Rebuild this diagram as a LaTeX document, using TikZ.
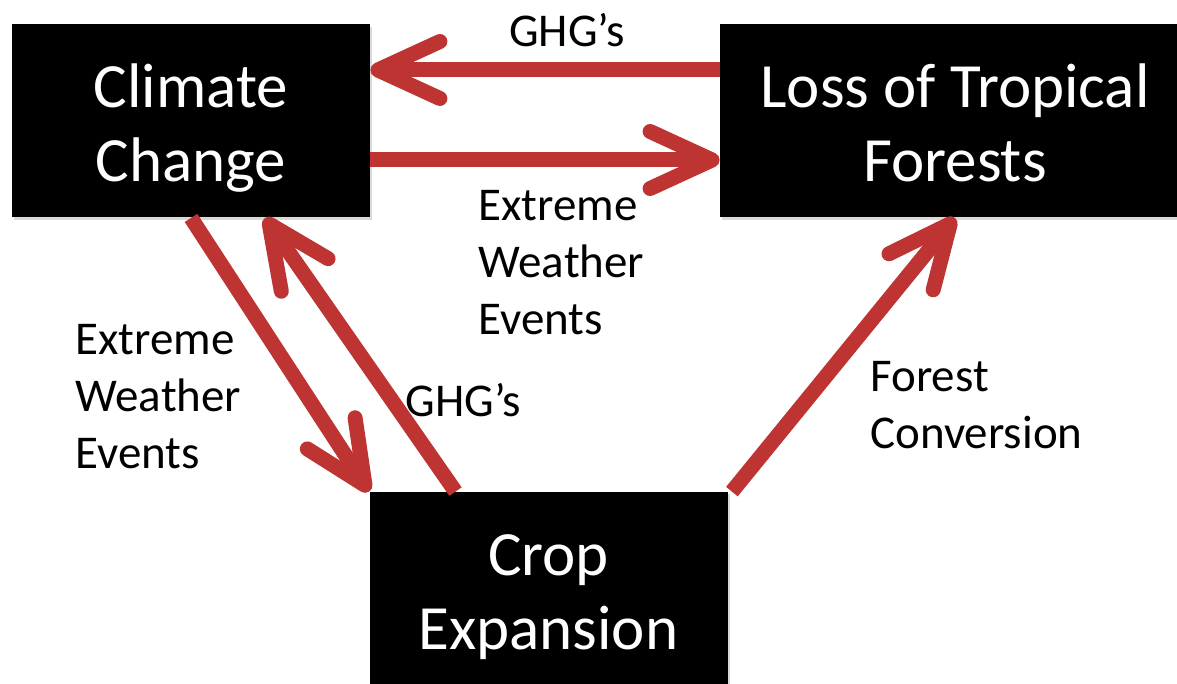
\documentclass[tikz,border=0pt]{standalone}
\usepackage{fontspec}
\setmainfont{Carlito}
\usetikzlibrary{arrows.meta,shadows,positioning,calc}
\definecolor{arrowred}{RGB}{190,52,50}

\begin{document}
\begin{tikzpicture}[x=0.5pt,y=-0.5pt,
  box/.style={fill=black,text=white,inner sep=0,minimum height=96.5pt,align=center,
    font=\fontsize{31.5}{37}\selectfont,text height=68.5pt,text depth=7.5pt,
    drop shadow={opacity=0.3,shadow xshift=1.2pt,shadow yshift=-1.2pt}},
  lbl/.style={inner sep=0,align=left,anchor=west,font=\fontsize{23.5}{28.5}\selectfont},
  link/.style={arrowred,line width=7.5pt,-{Straight Barb[length=31pt,width=28.5pt,round]}}]
  \clip (0,0) rectangle (1177,684);

  \node[box,minimum width=179pt] (climate) at (191,121) {Climate\\Change};
  \node[box,minimum width=235pt] (forests) at (955,121) {Loss of Tropical\\Forests};
  \node[box,minimum width=179pt,minimum height=96pt] (crop) at (548.5,588) {Crop\\Expansion};

  \draw[link] ([yshift=25.5pt]forests.west) -- ([yshift=25.5pt]climate.east);
  \draw[link] ([yshift=-19.5pt]climate.east) -- ([yshift=-19.5pt]forests.west);
  \draw[link] (climate.south) -- (crop.north west);
  \draw[link] ([xshift=-46.5pt]crop.north) -- ([xshift=37pt]climate.south);
  \draw[link] ([xshift=2pt]crop.north east) -- (forests.south);

  \node[lbl,anchor=center] (ghgtop) at (567,30) {GHG's};
  \node[lbl] (weathermid) at (478,263) {Extreme\\Weather\\Events};
  \node[lbl] (weatherleft) at (75,397) {Extreme\\Weather\\Events};
  \node[lbl] (ghgmid) at (405,400) {GHG's};
  \node[lbl] (conversion) at (870,405) {Forest\\Conversion};
\end{tikzpicture}
\end{document}
